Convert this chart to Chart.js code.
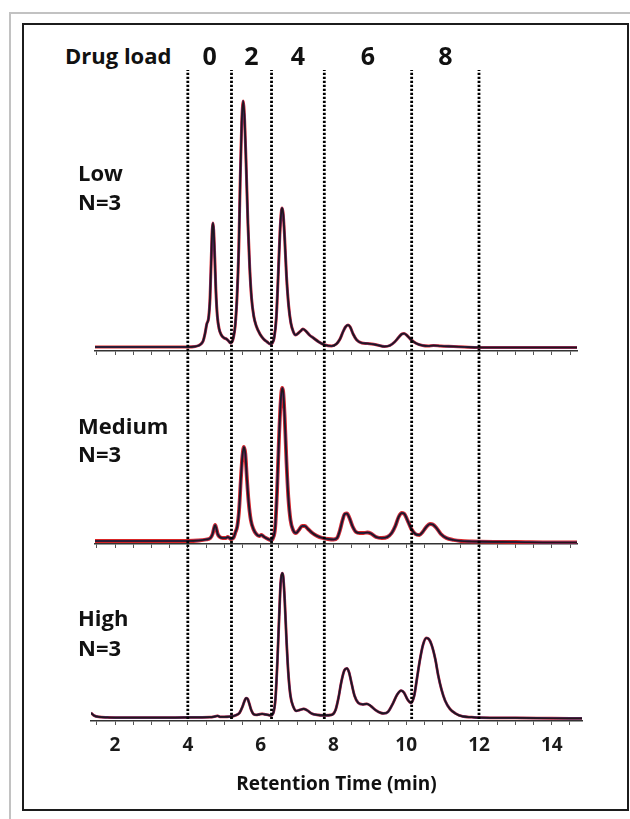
<!DOCTYPE html>
<html><head><meta charset="utf-8">
<script src="https://cdn.jsdelivr.net/npm/chart.js@4.4.1/dist/chart.umd.min.js"></script>
<style>
html,body{margin:0;padding:0;background:#fff;}
body{width:630px;height:819px;position:relative;overflow:hidden;font-family:'Open Sans',sans-serif;}
.box{position:absolute;}
.cv{position:absolute;left:0;}
.lbl{position:absolute;font-weight:700;color:#111;line-height:1;white-space:nowrap;}
</style></head><body>
<div class="box" style="left:9px;top:12px;width:640px;height:820px;border-left:2px solid #c2c2c2;border-top:2px solid #c2c2c2;"></div>
<div class="box" style="left:22px;top:23px;width:603px;height:784px;border:2px solid #1c1c1c;"></div>

<div class="cv" style="top:80px;width:630px;height:277px;"><canvas id="cLow" width="630" height="277"></canvas></div>
<div class="cv" style="top:358px;width:630px;height:192px;"><canvas id="cMed" width="630" height="192"></canvas></div>
<div class="cv" style="top:556px;width:630px;height:240px;"><canvas id="cHigh" width="630" height="240"></canvas></div>
<div class="cv" style="top:70px;width:630px;height:649px;pointer-events:none;"><canvas id="cDiv" width="630" height="649"></canvas></div>

<div class="lbl" style="left:65px;top:44px;font-size:22px;">Drug load</div>
<div id="loads"></div>
<div class="lbl" style="left:78px;top:161px;font-size:22px;">Low</div>
<div class="lbl" style="left:78px;top:190px;font-size:22px;">N=3</div>
<div class="lbl" style="left:78px;top:414px;font-size:22px;">Medium</div>
<div class="lbl" style="left:78px;top:442px;font-size:22px;">N=3</div>
<div class="lbl" style="left:78px;top:606px;font-size:22px;">High</div>
<div class="lbl" style="left:78px;top:636px;font-size:22px;">N=3</div>

<script>
// Retention time (min) and detector signal (relative height) for each sample
const lowTime = [1.45,2,2.5,3,3.5,4,4.2,4.3,4.36,4.42,4.47,4.52,4.57,4.61,4.64,4.67,4.69,4.71,4.74,4.77,4.81,4.86,4.92,5.0,5.06,5.12,5.17,5.21,5.25,5.3,5.35,5.4,5.44,5.48,5.52,5.56,5.6,5.65,5.7,5.75,5.81,5.88,5.98,6.08,6.18,6.26,6.32,6.37,6.43,6.48,6.53,6.57,6.59,6.62,6.66,6.71,6.77,6.83,6.9,6.96,7.04,7.1,7.16,7.24,7.34,7.45,7.6,7.77,7.95,8.08,8.18,8.26,8.33,8.4,8.46,8.54,8.64,8.78,8.93,9.05,9.2,9.4,9.55,9.68,9.8,9.88,9.94,10.02,10.14,10.28,10.45,10.6,10.75,10.95,11.3,11.6,12,13,14,14.69];
const lowSignal = [1,1,1,1,1,1,1.5,2.5,4,7,14,24,30,50,85,118,125,118,90,58,32,19,13,10,9,7,5,6,10,22,50,100,170,225,247,228,185,125,80,50,32,22,14,9,6,4,5,10,30,70,115,137,140,134,110,72,42,25,16,13,15,17,19,17,13,10,6,3,2,4,9,16,21,23,21,14,8,5,4.5,4,3,1.5,2.5,6,11,14,14.5,12.5,8,4.5,2.5,2,2.5,2,1.5,1,0.5,0.5,0.5,0.5];

const medTime = [1.45,2,3,4,4.3,4.5,4.62,4.68,4.72,4.75,4.78,4.82,4.88,4.96,5.04,5.1,5.18,5.25,5.31,5.36,5.41,5.46,5.5,5.54,5.58,5.62,5.67,5.73,5.8,5.88,5.96,6.02,6.1,6.2,6.28,6.34,6.4,6.45,6.5,6.55,6.59,6.62,6.66,6.71,6.76,6.82,6.89,6.97,7.05,7.14,7.21,7.3,7.42,7.55,7.7,7.85,8.0,8.1,8.18,8.25,8.31,8.37,8.44,8.52,8.62,8.72,8.82,8.93,9.03,9.17,9.33,9.48,9.6,9.7,9.79,9.88,9.95,10.03,10.14,10.25,10.36,10.45,10.55,10.65,10.73,10.83,10.95,11.1,11.3,11.5,11.8,12,13,14,14.69];
const medSignal = [1,1,1,1,1.5,2.5,4,8,14,17,14,8,5,4,4,5,3,4,10,16,33,65,86,95,88,65,40,22,13,8,6,7,5,3,2,4,15,50,100,140,154,150,125,80,45,22,12,9,12,16,16,13,9,6,4,3,2.5,4,12,22,28,28.5,24,16,10,9,9,9.5,8.5,5,4,5,9,16,25,29,28,22,13,8,7,10,15,18,17.5,14,8,4,2,1,0.5,0.3,0,-0.5,-0.5];

const highTime = [1.34,1.42,1.55,1.8,2,3,4,4.6,4.75,4.82,4.9,5.2,5.3,5.42,5.5,5.56,5.6,5.64,5.69,5.74,5.8,5.88,5.96,6.04,6.12,6.2,6.28,6.35,6.41,6.46,6.51,6.55,6.59,6.62,6.66,6.71,6.76,6.82,6.9,6.98,7.08,7.18,7.28,7.4,7.55,7.75,7.95,8.06,8.14,8.22,8.3,8.37,8.43,8.5,8.58,8.68,8.8,8.92,9.02,9.15,9.3,9.38,9.5,9.63,9.75,9.86,9.94,10.04,10.13,10.22,10.3,10.38,10.46,10.55,10.62,10.7,10.8,10.88,10.97,11.07,11.2,11.35,11.55,11.8,12,13,14,14.83];
const highSignal = [5,2.5,1,0.5,0.3,0.3,0.5,0.8,1.5,2,1,1.5,2.5,5,11,17,19.5,19,14,8,4,3,3.5,4,3.5,3,2.5,5,20,55,100,133,143,140,118,78,45,22,11,7,8,9,7.5,4.5,3,2.5,3,8,20,36,47,49,45,34,22,15,13.5,14,12,8,5,4.5,6,14,23,27,25,18,15,22,40,58,72,79,78,72,58,42,28,17,9,4.5,1.5,0.8,0.3,0,-0.3,-0.5];

// Dotted dividers between drug-load (DAR) species, and the species labels
const dividerTimes = [4, 5.2, 6.3, 7.75, 10.15, 12];
const drugLoads = ['0', '2', '4', '6', '8'];
const axisTitle = 'Retention Time (min)';

const font = 'Open Sans';

function panelConfig(times, signal, xMin, xMax, yMin, yMax, padL, padR, isBottom, redW) {
  const mk = () => times.map((t, i) => ({x: t, y: signal[i]}));
  const common = {fill: false, pointRadius: 0, cubicInterpolationMode: 'monotone'};
  return {
    type: 'line',
    data: {datasets: [
      Object.assign({label: 'Replicate 3', data: mk(), borderColor: '#22161b', borderWidth: 1.7, order: 1}, common),
      Object.assign({label: 'Replicate 2', data: mk(), borderColor: 'rgba(55,55,165,0.85)', borderWidth: 2.2, order: 2}, common),
      Object.assign({label: 'Replicate 1', data: mk(), borderColor: 'rgba(215,25,25,0.95)', borderWidth: redW, order: 3}, common)
    ]},
    options: {
      responsive: false, animation: false, devicePixelRatio: 1,
      layout: {padding: {left: padL, right: padR, top: 0, bottom: 0}},
      plugins: {legend: {display: false}, tooltip: {enabled: false}},
      scales: {
        x: {
          type: 'linear', min: xMin, max: xMax,
          grid: {display: true, drawOnChartArea: false, drawTicks: true, tickLength: 4, color: '#555', lineWidth: 1},
          border: {display: true, color: '#333', width: 1.5},
          ticks: {
            stepSize: 0.5, autoSkip: false, includeBounds: false, maxRotation: 0, minRotation: 0, padding: 9,
            color: '#1a1a1a', font: {family: font, weight: 'bold', size: 19},
            callback: (v) => (isBottom && Math.abs(v % 2) < 1e-9) ? String(v) : ''
          },
          title: {display: isBottom, text: axisTitle, color: '#111', padding: 0,
                  font: {family: font, weight: 'bold', size: 19}},
          afterFit: (s) => { s.height = isBottom ? 75 : 6; s.paddingLeft = 0; s.paddingRight = 0; }
        },
        y: {display: false, min: yMin, max: yMax}
      }
    }
  };
}

new Chart(document.getElementById('cLow'), panelConfig(lowTime, lowSignal, 1.45, 14.69, -3, 268, 95, 53, false, 3));
new Chart(document.getElementById('cMed'), panelConfig(medTime, medSignal, 1.45, 14.69, -2, 184, 95, 53, false, 3.8));
new Chart(document.getElementById('cHigh'), panelConfig(highTime, highSignal, 1.34, 14.83, -3, 160, 91, 48, true, 2.8));

const divChart = new Chart(document.getElementById('cDiv'), {
  type: 'line',
  data: {datasets: dividerTimes.map((t) => ({
    label: 'Divider ' + t, data: [{x: t, y: 0}, {x: t, y: 1}],
    borderColor: '#000', borderWidth: 2.8, borderDash: [2.2, 1.8], pointRadius: 0, fill: false
  }))},
  options: {
    responsive: false, animation: false, devicePixelRatio: 1,
    layout: {padding: {left: 91, right: 48, top: 0, bottom: 0}},
    plugins: {legend: {display: false}, tooltip: {enabled: false}},
    scales: {
      x: {type: 'linear', display: false, min: 1.34, max: 14.83},
      y: {display: false, min: 0, max: 1}
    }
  }
});

// species labels centred between consecutive dividers, placed with the chart's x scale
const holder = document.getElementById('loads');
const xs = divChart.scales.x;
drugLoads.forEach((lab, i) => {
  const mid = (dividerTimes[i] + dividerTimes[i + 1]) / 2;
  const d = document.createElement('div');
  d.className = 'lbl';
  d.style.fontSize = '25px';
  d.style.top = '43px';
  d.style.left = xs.getPixelForValue(mid) + 'px';
  d.style.transform = 'translateX(-50%)';
  d.textContent = lab;
  holder.appendChild(d);
});
</script>
</body></html>
